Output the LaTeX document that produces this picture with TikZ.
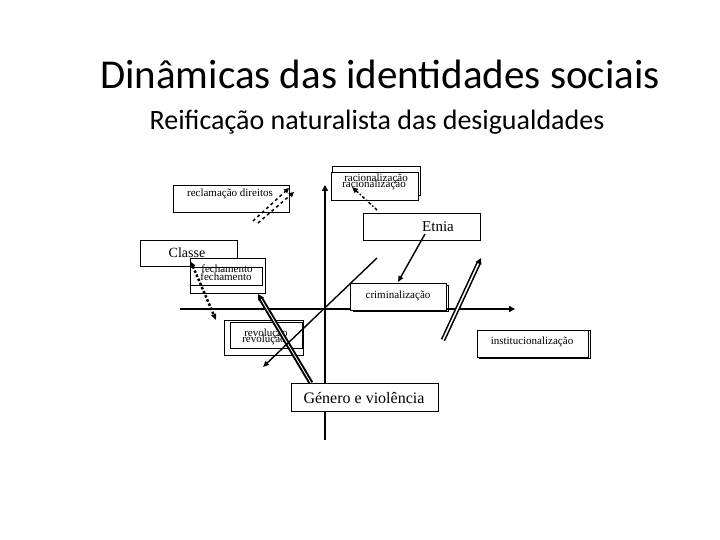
\documentclass[tikz,border=0pt]{standalone}
\usepackage{fontspec}
\setmainfont{Liberation Serif}
\newfontfamily\titlefont{Carlito}
\usetikzlibrary{arrows.meta}
\begin{document}
\begin{tikzpicture}[x=1pt,y=-1pt,
  bx/.style={draw,line width=0.8pt,fill=white},
  lbl/.style={font=\fontsize{11}{11}\selectfont,inner sep=0pt},
  ax/.style={line width=1.6pt,-{Triangle[length=6pt,width=6pt]}},
  ar/.style={line width=1.4pt,-{Triangle[length=6pt,width=5pt]}}]
\useasboundingbox (0,0) rectangle (720,540);
\node[font=\titlefont\fontsize{41}{41}\selectfont] (t1) at (380,74) {Dinâmicas das identidades sociais};
\node[font=\titlefont\fontsize{28}{28}\selectfont] (t2) at (377,122) {Reificação naturalista das desigualdades};
% axes
\coordinate (yb) at (325,440); \coordinate (yt) at (325,185);
\coordinate (xl) at (180,309); \coordinate (xr) at (515,309);
\draw[ax] (yb) -- (yt);
\draw[ax] (xl) -- (xr);
% boxes
\draw[bx] (173,185) rectangle (289,212);
\node[lbl] (recl) at (230,194) {reclamação direitos};
\draw[bx] (332,166) rectangle (420,195);
\draw[bx] (331,172) rectangle (418,200);
\node[lbl] (rac1) at (376,179) {racionalização};
\node[lbl] (rac2) at (374,185) {racionalização};
\draw[bx] (363,213) rectangle (480,240);
\node[font=\fontsize{15}{15}\selectfont,inner sep=0pt] (etnia) at (438,227) {Etnia};
\draw[bx] (140,240) rectangle (237,266);
\node[font=\fontsize{14}{14}\selectfont,inner sep=0pt] (classe) at (187,253) {Classe};
\draw[bx] (190,258) rectangle (265,293);
\draw[bx] (190,267) rectangle (262,285);
\node[lbl] (fe1) at (227,269) {fechamento};
\node[lbl] (fe2) at (226,277) {fechamento};
\draw[line width=0.8pt] (353,285) rectangle (448,311);
\draw[bx] (350,283) rectangle (446,310);
\node[lbl] (crim) at (398,296) {criminalização};
\draw[bx] (224,320) rectangle (303,355);
\draw[bx] (230,322) rectangle (302,348);
\node[lbl] (rev1) at (266,334) {revolução};
\node[lbl] (rev2) at (264,340) {revolução};
\draw[line width=0.8pt] (479,330) rectangle (590,358);
\draw[bx] (477,330) rectangle (588,357);
\node[lbl] (inst) at (532,342) {institucionalização};
\draw[bx] (291,383) rectangle (438,411);
\node[font=\fontsize{16}{16}\selectfont,inner sep=0pt] (gen) at (364,398) {Género e violência};
% arrows
\draw[line width=1.5pt,dashed,-{Triangle[length=5pt,width=5pt]}] (253,221) -- (289,188);
\draw[line width=1.5pt,dashed,-{Triangle[length=5pt,width=5pt]}] (258,223) -- (294,192);
\draw[line width=1.5pt,dash dot,-{Triangle[length=6pt,width=5pt]}] (377,210) -- (352,187);
\draw[ar] (425,234) -- (398,282);
\draw[line width=2.5pt,dotted,{Triangle[length=5pt,width=5pt]}-{Triangle[length=6pt,width=5pt]}] (191,262) -- (216,320);
\draw[line width=2pt,double,double distance=0.8pt,-{Triangle[length=6pt,width=6pt]}] (311,383) -- (258,294);
\draw[ar] (377,258) -- (263,367);
\draw[line width=1.6pt,double,double distance=1.5pt,-{Triangle[length=6pt,width=6pt]}] (443,340) -- (481,258);
\end{tikzpicture}
\end{document}
